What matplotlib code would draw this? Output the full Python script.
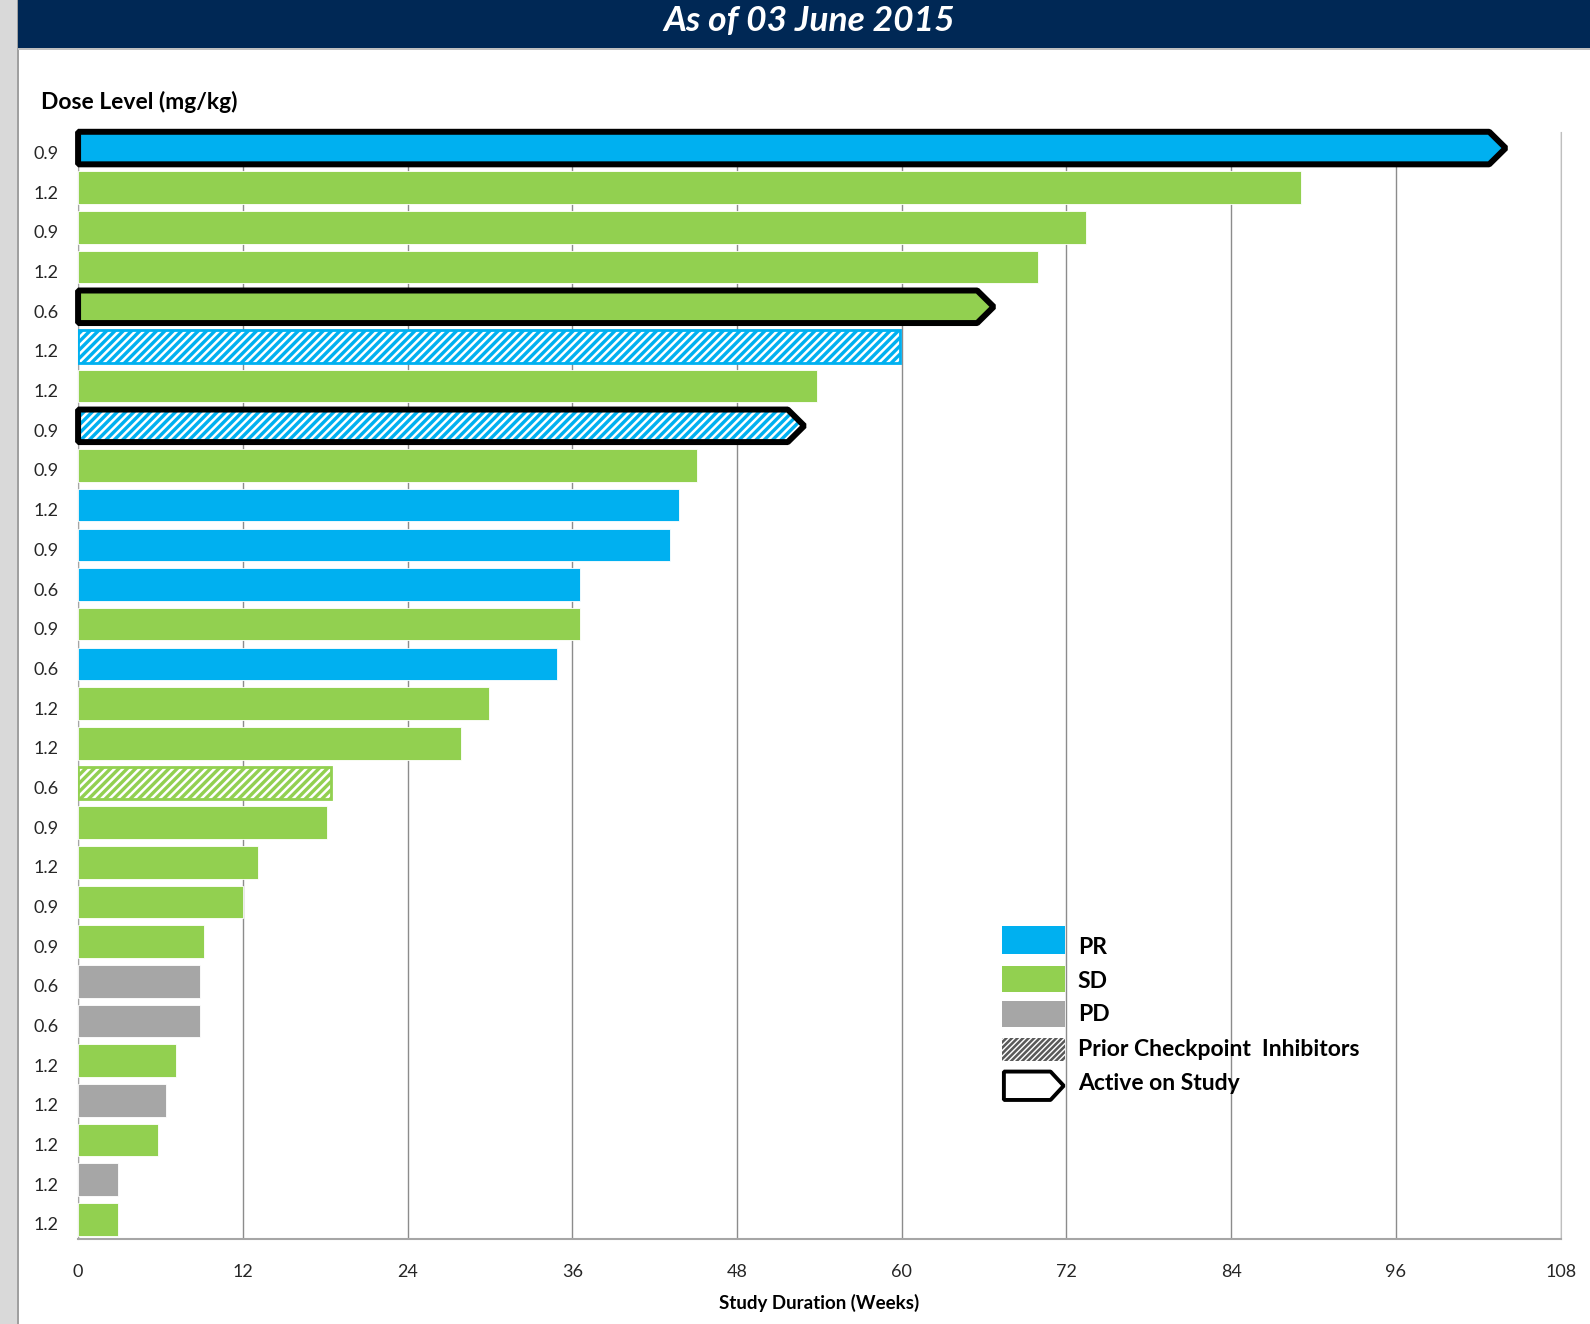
import matplotlib
matplotlib.use("Agg")
import matplotlib.pyplot as plt
from matplotlib.patches import Rectangle, Polygon
from matplotlib.transforms import ScaledTranslation

plt.rcParams['font.family'] = ['Lato', 'DejaVu Sans']
plt.rcParams['hatch.linewidth'] = 1.8

# ---------------- data ----------------
doses = ['0.9', '1.2', '0.9', '1.2', '0.6', '1.2', '1.2', '0.9', '0.9', '1.2',
         '0.9', '0.6', '0.9', '0.6', '1.2', '1.2', '0.6', '0.9', '1.2', '0.9',
         '0.9', '0.6', '0.6', '1.2', '1.2', '1.2', '1.2', '1.2']
weeks = [104.0, 89.1, 73.4, 69.9, 66.7, 59.9, 53.8, 52.9, 45.1, 43.8,
         43.1, 36.6, 36.6, 34.9, 29.9, 27.9, 18.4, 18.1, 13.1, 12.0,
         9.2, 8.9, 8.9, 7.1, 6.4, 5.8, 2.9, 2.9]
response = ['PR', 'SD', 'SD', 'SD', 'SD', 'PR', 'SD', 'PR', 'SD', 'PR',
            'PR', 'PR', 'SD', 'PR', 'SD', 'SD', 'SD', 'SD', 'SD', 'SD',
            'SD', 'PD', 'PD', 'SD', 'PD', 'SD', 'PD', 'SD']
prior_cpi = [False, False, False, False, False, True, False, True, False, False,
             False, False, False, False, False, False, True, False, False, False,
             False, False, False, False, False, False, False, False]
active = [True, False, False, False, True, False, False, True, False, False,
          False, False, False, False, False, False, False, False, False, False,
          False, False, False, False, False, False, False, False]
xticks = [0, 12, 24, 36, 48, 60, 72, 84, 96, 108]
legend_labels = ['PR', 'SD', 'PD', 'Prior Checkpoint  Inhibitors', 'Active on Study']

colors = {'PR': '#00B0F0', 'SD': '#92D050', 'PD': '#A6A6A6'}
NAVY = '#002855'

W, H = 1590, 1324
fig = plt.figure(figsize=(W / 100, H / 100), dpi=100)

def fx(x):  # displayed px -> figure fraction
    return x / 1568.0

def fy(y):
    return 1 - y / 1306.0

# background decorations
fig.add_artist(Rectangle((0, 0), fx(18), 1, transform=fig.transFigure,
                         facecolor='#D9D9D9', edgecolor='none', zorder=0))
fig.add_artist(Rectangle((fx(17), 0), fx(2), 1, transform=fig.transFigure,
                         facecolor='#A0A0A0', edgecolor='none', zorder=0))
fig.add_artist(Rectangle((fx(18), fy(47)), 1 - fx(18), fy(0) - fy(47),
                         transform=fig.transFigure, facecolor=NAVY,
                         edgecolor='none', zorder=1))
fig.add_artist(Rectangle((fx(18), fy(49)), 1 - fx(18), fy(47) - fy(49),
                         transform=fig.transFigure, facecolor='#BFBFBF',
                         edgecolor='none', zorder=1))
fig.text(fx(798), fy(21), 'As of 03 June 2015', color='white', fontsize=25.5,
         fontweight='bold', fontstyle='italic', ha='center', va='center')

ax = fig.add_axes([fx(77), fy(1222), fx(1539) - fx(77), fy(130) - fy(1222)])
n = len(weeks)
ypos = list(range(n))
h = 0.82
tip = 1.2

for i in range(n):
    c = colors[response[i]]
    v = weeks[i]
    y0, y1 = ypos[i] - h / 2, ypos[i] + h / 2
    if active[i]:
        pts = [(0, y0), (v - tip, y0), (v, ypos[i]), (v - tip, y1), (0, y1)]
        if prior_cpi[i]:
            ax.add_patch(Polygon(pts, closed=True, facecolor=c, edgecolor='white',
                                 hatch='////', linewidth=0, zorder=3))
        else:
            ax.add_patch(Polygon(pts, closed=True, facecolor=c, edgecolor='none', zorder=3))
        ax.add_patch(Polygon(pts, closed=True, facecolor='none', edgecolor='black',
                             linewidth=4.3, joinstyle='bevel', zorder=4, clip_on=False))
    elif prior_cpi[i]:
        ax.barh(ypos[i], v, height=h, color=c, edgecolor='white',
                hatch='////', linewidth=0, zorder=3)
        ax.barh(ypos[i], v, height=h, facecolor='none', edgecolor=c,
                linewidth=2.0, zorder=3.5)
    else:
        ax.barh(ypos[i], v, height=h, color=c, edgecolor='white',
                linewidth=0.6, zorder=3)

ax.set_xlim(0, 108)
ax.set_ylim(n - 1 + 0.49, -0.41)
ax.set_xticks(xticks)
ax.set_xticklabels([str(t) for t in xticks], fontsize=13, color='#262626')
ax.set_yticks(ypos)
ax.set_yticklabels(doses, fontsize=13, color='#262626')
ax.tick_params(axis='both', length=0)
ax.tick_params(axis='y', pad=14)
ax.tick_params(axis='x', pad=18)
off = ScaledTranslation(0, -0.045, fig.dpi_scale_trans)
for lab in ax.get_yticklabels():
    lab.set_transform(lab.get_transform() + off)
ax.grid(axis='x', color='#8C8C8C', linewidth=1.0, zorder=0)
ax.set_axisbelow(True)
ax.spines['top'].set_visible(False)
ax.spines['right'].set_color('#BFBFBF')
ax.spines['left'].set_color('#A6A6A6')
ax.spines['bottom'].set_color('#A6A6A6')
ax.spines['bottom'].set_linewidth(1.5)

fig.text(fx(40), fy(101), 'Dose Level (mg/kg)', fontsize=16.5, fontweight='bold',
         ha='left', va='center', color='black')
fig.text(fx(808), fy(1285), 'Study Duration (Weeks)', fontsize=13.5, fontweight='bold',
         ha='center', va='center', color='black')

# legend (drawn manually)
sw_x0, sw_x1 = 988, 1050
boxes = [(913, 941), (953, 979), (987, 1013)]
for (ya, yb), key in zip(boxes, ['PR', 'SD', 'PD']):
    fig.add_artist(Rectangle((fx(sw_x0), fy(yb)), fx(sw_x1) - fx(sw_x0), fy(ya) - fy(yb),
                             transform=fig.transFigure, facecolor=colors[key],
                             edgecolor='none', zorder=5))
fig.add_artist(Rectangle((fx(sw_x0), fy(1047)), fx(sw_x1) - fx(sw_x0), fy(1024) - fy(1047),
                         transform=fig.transFigure, facecolor='white',
                         edgecolor='#595959', hatch='//////', linewidth=0, zorder=5))
pent = [(fx(990), fy(1057)), (fx(1036), fy(1057)), (fx(1049), fy(1071)),
        (fx(1036), fy(1085)), (fx(990), fy(1085))]
fig.add_artist(Polygon(pent, closed=True, transform=fig.transFigure, facecolor='white',
                       edgecolor='black', linewidth=2.8, joinstyle='bevel', zorder=5))
for ty, lab in zip([935, 968, 1001, 1035, 1069], legend_labels):
    fig.text(fx(1063), fy(ty), lab, fontsize=16.5, fontweight='bold', ha='left',
             va='center', color='black', zorder=6)

fig.savefig('out.png', dpi=100)
